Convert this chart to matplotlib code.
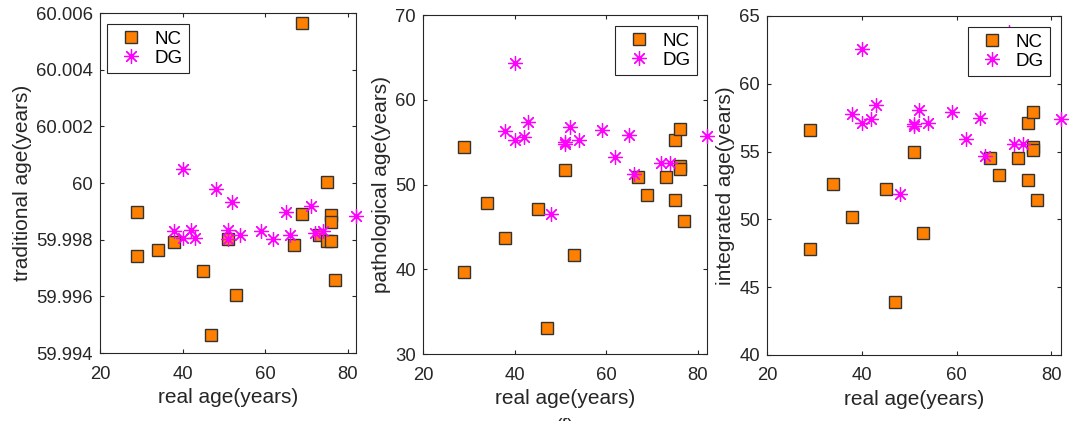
import numpy as np
import matplotlib
matplotlib.use("Agg")
import matplotlib.pyplot as plt
import matplotlib.ticker as ticker

plt.rcParams.update({
    "font.family": ["Liberation Sans", "DejaVu Sans"],
    "font.size": 13,
    "axes.edgecolor": "#262626",
    "axes.linewidth": 0.8,
    "xtick.direction": "in",
    "ytick.direction": "in",
    "xtick.top": True,
    "ytick.right": True,
    "xtick.color": "#262626",
    "ytick.color": "#262626",
    "xtick.major.size": 3,
    "ytick.major.size": 3,
})

# ---- data ----
nc_age = [29, 29, 34, 38, 45, 47, 51, 53, 67, 69, 69, 73, 75, 75, 76, 76, 76, 77]
dg_age = [38, 40, 40, 42, 43, 48, 51, 51, 52, 54, 59, 62, 65, 66, 71, 72, 74, 82]

nc_traditional = [59.99898, 59.99741, 59.99764, 59.99792, 59.99688, 59.99465, 59.99804, 59.99605,
                  59.99781, 59.99892, 60.00566, 59.99815, 60.00002, 59.99797, 59.99886, 59.99862,
                  59.99797, 59.99656]
dg_traditional = [59.99829, 60.00048, 59.99807, 59.99835, 59.99807, 59.99980, 59.99833, 59.99804,
                  59.99933, 59.99815, 59.99831, 59.99804, 59.99897, 59.99815, 59.99919, 59.99822,
                  59.99831, 59.99883]

nc_pathological = [54.4, 39.7, 47.8, 43.7, 47.1, 33.1, 51.7, 41.7,
                   50.9, 48.8, 66.0, 50.9, 55.3, 48.2, 56.6, 52.2, 51.9, 45.7]
dg_pathological = [56.3, 64.3, 55.3, 55.6, 57.35, 46.5, 54.8, 55.0,
                   56.8, 55.3, 56.5, 53.2, 55.9, 51.2, 66.0, 52.6, 52.6, 55.7]

nc_integrated = [56.6, 47.8, 52.6, 50.2, 52.25, 43.9, 55.0, 49.0,
                 54.5, 53.3, 63.0, 54.5, 57.1, 52.9, 57.9, 55.3, 55.1, 51.4]
dg_integrated = [57.75, 62.6, 57.1, 57.4, 58.4, 51.9, 56.9, 57.0,
                 58.1, 57.1, 57.9, 55.9, 57.5, 54.7, 63.8, 55.55, 55.55, 57.4]

X_TICKS = [20, 40, 60, 80]

panels = [
    # (y NC, y DG, ylabel, ylim, yticks, axes rect, legend loc, legend anchor)
    (nc_traditional, dg_traditional, "traditional age(years)", (59.994, 60.006),
     np.arange(59.994, 60.0061, 0.002), [0.0932, 0.1615, 0.2386, 0.8075],
     "upper left", (0.027, 0.968)),
    (nc_pathological, dg_pathological, "pathological age(years)", (30, 70),
     [30, 40, 50, 60, 70], [0.3942, 0.1590, 0.2647, 0.8050],
     "upper right", (0.965, 0.968)),
    (nc_integrated, dg_integrated, "integrated age(years)", (40, 65),
     [40, 45, 50, 55, 60, 65], [0.7148, 0.1570, 0.2740, 0.8050],
     "upper right", (0.963, 0.968)),
]

fig = plt.figure(figsize=(10.73, 4.21), dpi=100)

for y_nc, y_dg, ylabel, ylim, yticks, rect, loc, anchor in panels:
    ax = fig.add_axes(rect)
    ax.plot(nc_age, y_nc, linestyle="none", marker="s", markersize=8.5,
            markerfacecolor="#FF8000", markeredgecolor="#333333", markeredgewidth=1.0,
            label="NC", clip_on=False, zorder=3)
    ax.plot(dg_age, y_dg, linestyle="none", marker=(8, 2, 0), markersize=10.5,
            color="#FF00FF", markeredgewidth=0.9, label="DG", clip_on=False, zorder=4)

    ax.set_xlim(20, 82)
    ax.set_ylim(*ylim)
    ax.set_xticks(X_TICKS)
    ax.set_yticks(yticks)
    ax.yaxis.set_major_formatter(ticker.FuncFormatter(lambda v, p: f"{v:g}"))
    ax.tick_params(labelcolor="#262626", labelsize=13.3)
    ax.tick_params(axis="x", pad=9)
    ax.tick_params(axis="y", pad=5)
    ax.set_xlabel("real age(years)", fontsize=15, color="#262626", labelpad=4)
    ax.set_ylabel(ylabel, fontsize=15, color="#262626", labelpad=3)

    leg = ax.legend(loc=loc, bbox_to_anchor=anchor, borderaxespad=0, fancybox=False,
                    framealpha=1, edgecolor="#262626", fontsize=13.5,
                    handlelength=1.9, handletextpad=0.3, borderpad=0.35, labelspacing=0.1)
    leg.get_frame().set_linewidth(0.8)
    leg.set_zorder(10)

fig.text(0.527, 0.007, "(f)", ha="center", va="top", fontsize=14, color="#262626")

fig.savefig("out.png", dpi=100)
plt.close(fig)
